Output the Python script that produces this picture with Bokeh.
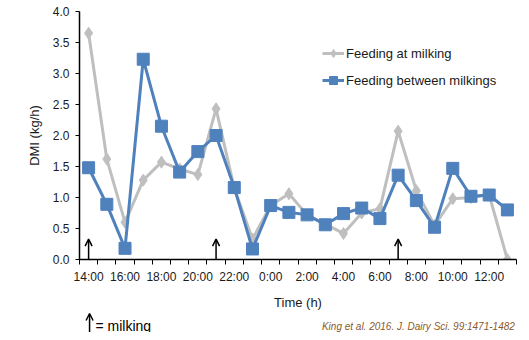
from bokeh.plotting import figure
from bokeh.layouts import column
from bokeh.models import (ColumnDataSource, FixedTicker, PrintfTickFormatter, Legend, LegendItem,
                          Arrow, OpenHead, Range1d)
from bokeh.core.properties import value
from bokeh.embed import file_html
from bokeh.resources import INLINE

hours = ["14:00", "15:00", "16:00", "17:00", "18:00", "19:00", "20:00", "21:00", "22:00", "23:00",
         "0:00", "1:00", "2:00", "3:00", "4:00", "5:00", "6:00", "7:00", "8:00", "9:00",
         "10:00", "11:00", "12:00", "13:00"]
at_milking = [3.65, 1.62, 0.60, 1.28, 1.57, 1.46, 1.37, 2.43, 1.15, 0.33,
              0.87, 1.06, 0.72, 0.57, 0.42, 0.75, 0.82, 2.07, 1.11, 0.55,
              0.98, 1.00, 1.04, 0.00]
between_milkings = [1.48, 0.89, 0.18, 3.23, 2.15, 1.41, 1.74, 2.00, 1.16, 0.17,
                    0.87, 0.76, 0.72, 0.56, 0.74, 0.83, 0.66, 1.36, 0.95, 0.52,
                    1.47, 1.02, 1.04, 0.80]
milking_times = ["14:00", "21:00", "7:00"]
y_ticks = [0.0, 0.5, 1.0, 1.5, 2.0, 2.5, 3.0, 3.5, 4.0]
footnote = "= milking"
citation = "King et al. 2016. J. Dairy Sci. 99:1471-1482"

FONT = "Liberation Sans"
GRAY = "#BFBFBF"
BLUE = "#4F81BD"
W = 521

xi = list(range(len(hours)))
src = ColumnDataSource(dict(x=xi, a=at_milking, b=between_milkings))

p = figure(width=W, height=312, output_backend="svg", toolbar_location=None,
           x_range=Range1d(-0.5, len(hours) - 0.5), y_range=Range1d(0, 4),
           min_border_left=79, min_border_right=5, min_border_top=11, min_border_bottom=53)
p.outline_line_color = None
p.grid.visible = False

la = p.line("x", "a", source=src, line_color=GRAY, line_width=3)
sa = p.scatter("x", "a", source=src, marker="diamond", size=12, fill_color=GRAY, line_color=GRAY)
lb = p.line("x", "b", source=src, line_color=BLUE, line_width=3)
sb = p.scatter("x", "b", source=src, marker="square", size=12, fill_color=BLUE, line_color=BLUE)

# x axis
xa = p.xaxis[0]
major = [i for i in xi if i % 2 == 0]
xa.ticker = FixedTicker(ticks=major, minor_ticks=[i - 0.5 for i in range(len(hours) + 1)])
xa.major_label_overrides = {i: hours[i] for i in major}
xa.major_tick_out = 5
xa.major_tick_in = 0
xa.minor_tick_out = 5
xa.minor_tick_in = 0
xa.minor_tick_line_color = "black"
xa.major_label_standoff = 5
xa.axis_label = "Time (h)"
xa.axis_label_standoff = 8

# y axis
ya = p.yaxis[0]
ya.ticker = FixedTicker(ticks=y_ticks)
ya.formatter = PrintfTickFormatter(format="%.1f")
ya.major_tick_out = 4
ya.major_tick_in = 0
ya.minor_tick_line_color = None
ya.major_label_standoff = 6
ya.axis_label = "DMI (kg/h)"
ya.axis_label_standoff = 8

for ax in (xa, ya):
    ax.axis_line_color = "black"
    ax.axis_line_width = 1.5
    ax.major_label_text_font = FONT
    ax.major_label_text_font_size = "12px"
    ax.major_label_text_color = "#1a1a1a"
    ax.axis_label_text_font = FONT
    ax.axis_label_text_font_size = "13px"
    ax.axis_label_text_font_style = "normal"
    ax.axis_label_text_color = "#1a1a1a"
xa.major_tick_line_color = None

# milking arrows
mx = [hours.index(h) for h in milking_times]
asrc = ColumnDataSource(dict(x=mx, y0=[0.0] * len(mx), y1=[0.33] * len(mx)))
p.add_layout(Arrow(x_start="x", y_start="y0", x_end="x", y_end="y1", source=asrc,
                   line_width=1.5, line_color="black",
                   end=OpenHead(size=7, line_width=1.5, line_color="black")))

legend = Legend(items=[LegendItem(label="Feeding at milking", renderers=[la, sa]),
                       LegendItem(label="Feeding between milkings", renderers=[lb, sb])],
                location=(243, 169), padding=0, margin=0, spacing=7,
                glyph_width=22, glyph_height=20, label_height=20, label_standoff=2,
                label_text_font=FONT, label_text_font_size="13px", label_text_color="#1a1a1a",
                border_line_color=None, background_fill_alpha=0)
p.add_layout(legend)

# footnote strip (pixel-like coordinates, 0..W by 0..20, y up)
f = figure(width=W, height=20, output_backend="svg", toolbar_location=None,
           x_range=Range1d(0, W), y_range=Range1d(0, 20),
           min_border_left=0, min_border_right=0, min_border_top=0, min_border_bottom=0)
f.axis.visible = False
f.grid.visible = False
f.outline_line_color = None
f.add_layout(Arrow(x_start=12, y_start=0, x_end=12, y_end=19,
                   line_width=1.5, line_color="black",
                   end=OpenHead(size=7, line_width=1.5, line_color="black")))
f.text(x=[19], y=[7], text=[footnote], text_font=value(FONT), text_font_size="14px",
       text_baseline="middle", text_color="black")
f.text(x=[519], y=[1], text=[citation], text_font=value(FONT), text_font_size="10px",
       text_font_style="italic", text_baseline="bottom", text_align="right",
       text_color="#8B5A2B")

layout = column(p, f, spacing=0)
open("out.html", "w").write(file_html(layout, INLINE))
